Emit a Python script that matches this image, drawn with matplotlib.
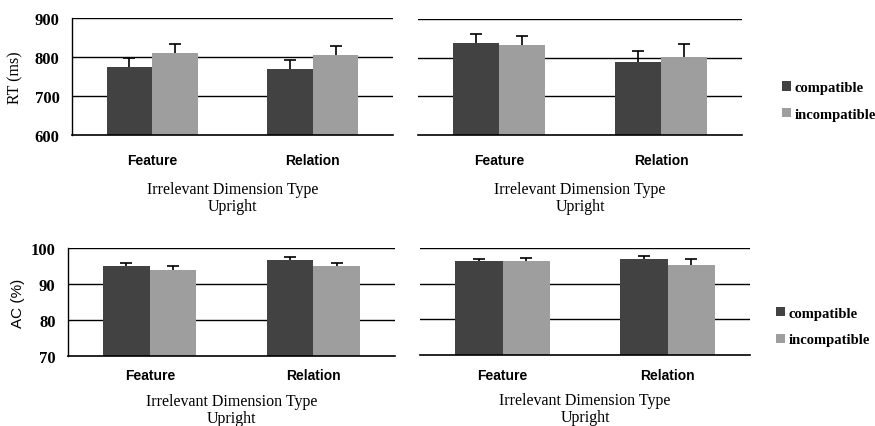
import matplotlib
matplotlib.use("Agg")
import matplotlib.pyplot as plt
from matplotlib.patches import Patch
import numpy as np

categories = ["Feature", "Relation"]
series_names = ["compatible", "incompatible"]

# RT panels (ms): values and upper error-bar extents
rt_left_comp = [775, 769]
rt_left_comp_err = [23, 24]
rt_left_incomp = [810, 806]
rt_left_incomp_err = [24, 22]
rt_right_comp = [838, 790]
rt_right_comp_err = [24, 26]
rt_right_incomp = [833, 803]
rt_right_incomp_err = [24, 32]

# AC panels (%)
ac_left_comp = [94.9, 96.7]
ac_left_comp_err = [0.8, 0.9]
ac_left_incomp = [93.9, 94.9]
ac_left_incomp_err = [1.1, 1.0]
ac_right_comp = [96.3, 97.0]
ac_right_comp_err = [0.7, 0.8]
ac_right_incomp = [96.3, 95.3]
ac_right_incomp_err = [0.9, 1.5]

rt_ticks = [600, 700, 800, 900]
ac_ticks = [70, 80, 90, 100]
xlabel_text = "Irrelevant Dimension Type\nUpright"

dark = "#424242"
light = "#9e9e9e"

fig = plt.figure(figsize=(8.75, 4.27), dpi=100)
W, H = 875, 427

def add_ax(x0, x1, ytop, ybot):
    return fig.add_axes([x0 / W, 1 - ybot / H, (x1 - x0) / W, (ybot - ytop) / H])

axes = [
    (add_ax(72, 393, 19, 136), rt_left_comp, rt_left_comp_err, rt_left_incomp, rt_left_incomp_err, rt_ticks, True),
    (add_ax(418, 742, 20, 136), rt_right_comp, rt_right_comp_err, rt_right_incomp, rt_right_incomp_err, rt_ticks, False),
    (add_ax(68, 395, 249, 357), ac_left_comp, ac_left_comp_err, ac_left_incomp, ac_left_incomp_err, ac_ticks, True),
    (add_ax(420, 750, 249, 356), ac_right_comp, ac_right_comp_err, ac_right_incomp, ac_right_incomp_err, ac_ticks, False),
]

bw = 0.285
x = np.arange(len(categories))
for i, (ax, c, ce, inc, ince, ticks, left) in enumerate(axes):
    for t in ticks[1:]:
        ax.axhline(t, color="black", lw=1.0, zorder=0)
    ax.errorbar(x - bw / 2, c, yerr=ce, fmt="none",
                ecolor="black", elinewidth=1.2, capsize=4, capthick=1.2, zorder=1)
    ax.errorbar(x + bw / 2, inc, yerr=ince, fmt="none",
                ecolor="black", elinewidth=1.2, capsize=4, capthick=1.2, zorder=1)
    ax.bar(x - bw / 2, c, bw, color=dark, edgecolor="none", zorder=2)
    ax.bar(x + bw / 2, inc, bw, color=light, edgecolor="none", zorder=2)
    ax.set_xlim(-0.5, 1.5)
    ax.set_ylim(ticks[0], ticks[-1])
    for s in ["top", "right"]:
        ax.spines[s].set_visible(False)
    ax.spines["bottom"].set_linewidth(1.2)
    ax.spines["bottom"].set_zorder(3)
    ax.spines["left"].set_visible(left)
    ax.spines["left"].set_linewidth(1.0)
    ax.set_xticks(x)
    pad = 13 if i < 2 else 9
    ax.set_xticklabels(categories, fontsize=10, fontweight="bold", family="Liberation Sans")
    ax.tick_params(axis="x", length=0, pad=pad)
    if left:
        ax.set_yticks(ticks)
        ax.set_yticklabels([str(t) for t in ticks], fontsize=12, fontweight="bold",
                           family="Liberation Serif")
        ax.tick_params(axis="y", length=0, pad=9)
    else:
        ax.set_yticks([])
    ax.set_xlabel(xlabel_text, family="Liberation Serif", fontsize=11.5,
                  labelpad=10 if i < 2 else 7.5, linespacing=1.05)

axes[0][0].set_ylabel("RT (ms)", family="Liberation Serif", fontsize=11.5, labelpad=8)
axes[2][0].set_ylabel("AC (%)", family="Liberation Sans", fontsize=11, labelpad=4)

handles = [Patch(facecolor=dark, edgecolor="none"), Patch(facecolor=light, edgecolor="none")]
for xa, yc in [(782, 102), (776, 327.5)]:
    fig.legend(handles, series_names, loc="center left", bbox_to_anchor=(xa / W, 1 - yc / H),
               frameon=False, handlelength=0.6, handleheight=0.6, handletextpad=0.25,
               borderpad=0, borderaxespad=0,
               labelspacing=0.95, prop={"family": "Liberation Serif", "weight": "bold", "size": 10.5})

fig.savefig("out.png", dpi=100)
